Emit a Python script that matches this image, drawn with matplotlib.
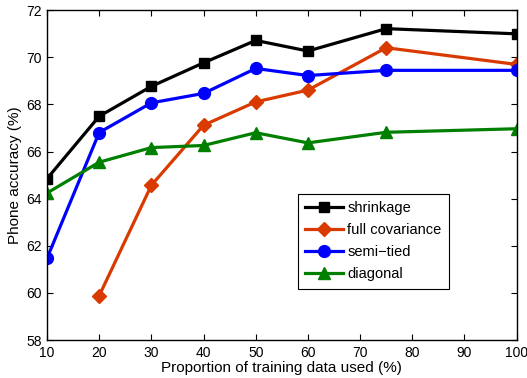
import matplotlib
matplotlib.use("Agg")
import matplotlib.pyplot as plt

plt.rcParams['font.family'] = ['Liberation Sans', 'DejaVu Sans']

proportion = [10, 20, 30, 40, 50, 60, 75, 100]
shrinkage = [64.85, 67.5, 68.77, 69.77, 70.72, 70.27, 71.22, 71.0]
full_cov_x = [20, 30, 40, 50, 60, 75, 100]
full_cov = [59.88, 64.57, 67.12, 68.11, 68.61, 70.41, 69.7]
semi_tied = [61.47, 66.81, 68.07, 68.47, 69.53, 69.23, 69.45, 69.45]
diagonal = [64.24, 65.55, 66.17, 66.26, 66.8, 66.37, 66.82, 66.97]

xticks = list(range(10, 101, 10))
yticks = list(range(58, 73, 2))

fig = plt.figure(figsize=(5.27, 3.78), dpi=100)
ax = fig.add_axes([0.0892, 0.1005, 0.8912, 0.8723])

ax.plot(proportion, shrinkage, color='black', marker='s', linewidth=2.3,
        markersize=7.5, label='shrinkage')
ax.plot(full_cov_x, full_cov, color='#d93a00', marker='D', linewidth=2.3,
        markersize=7, label='full covariance')
ax.plot(proportion, semi_tied, color='#0000ff', marker='o', linewidth=2.3,
        markersize=8.5, label='semi\u2212tied')
ax.plot(proportion, diagonal, color='#007f00', marker='^', linewidth=2.3,
        markersize=9, label='diagonal')

ax.set_xlim(10, 100)
ax.set_ylim(58, 72)
ax.set_xticks(xticks)
ax.set_yticks(yticks)
ax.tick_params(direction='in', top=True, right=True, labelsize=10, length=4,
               width=0.8, pad=4)
for s in ax.spines.values():
    s.set_linewidth(1.0)

ax.set_xlabel("Proportion of training data used (%)", fontsize=11, labelpad=1)
ax.set_ylabel("Phone accuracy (%)", fontsize=11, labelpad=3)

leg = ax.legend(loc='upper left', bbox_to_anchor=(0.534, 0.443), fontsize=10.5,
                fancybox=False, framealpha=1, edgecolor='black',
                handlelength=2.6, handletextpad=0.3, borderpad=0.5,
                labelspacing=0.55, borderaxespad=0)
leg.get_frame().set_linewidth(0.8)

fig.savefig("out.png", dpi=100)
